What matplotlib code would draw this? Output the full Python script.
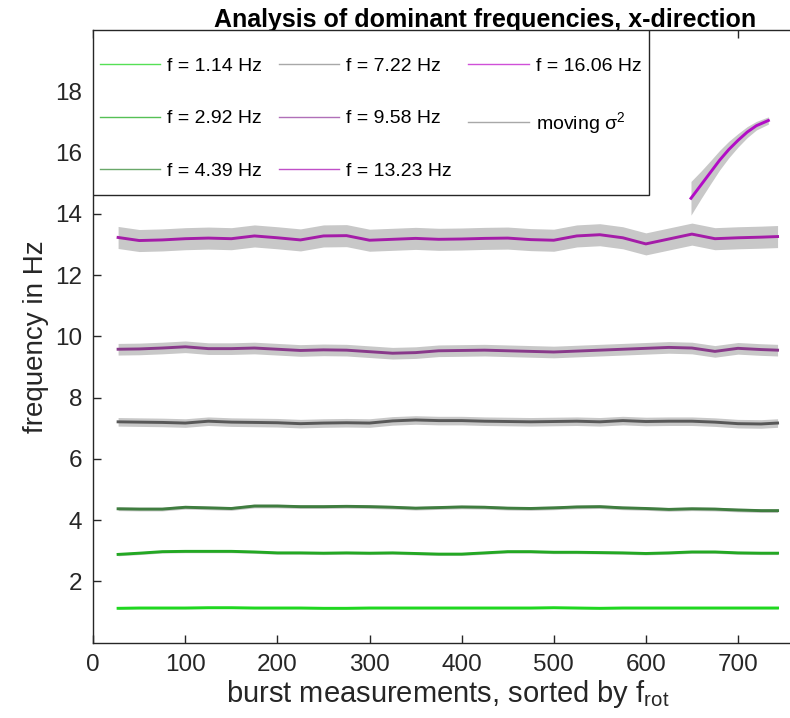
import numpy as np
import matplotlib
matplotlib.use("Agg")
import matplotlib.pyplot as plt
from matplotlib.lines import Line2D
from matplotlib.patches import Rectangle

plt.rcParams["font.family"] = ["Liberation Sans", "DejaVu Sans"]
plt.rcParams["mathtext.default"] = "regular"

# ── data ───────────────────────────────────────────────────────────────────
x = [27, 50, 75, 100, 125, 150, 175, 200, 225, 250, 275, 300, 325, 350, 375,
     400, 425, 450, 475, 500, 525, 550, 575, 600, 625, 650, 675, 700, 725, 743]

f_1_14 = [1.12, 1.13, 1.13, 1.13, 1.14, 1.14, 1.13, 1.13, 1.13, 1.12, 1.12, 1.13,
          1.13, 1.13, 1.13, 1.13, 1.13, 1.13, 1.13, 1.14, 1.13, 1.12, 1.13, 1.13,
          1.13, 1.13, 1.13, 1.13, 1.13, 1.13]
f_2_92 = [2.88, 2.92, 2.97, 2.98, 2.98, 2.98, 2.96, 2.93, 2.93, 2.92, 2.93, 2.92,
          2.93, 2.91, 2.89, 2.89, 2.93, 2.97, 2.97, 2.95, 2.95, 2.94, 2.93, 2.91,
          2.93, 2.96, 2.96, 2.93, 2.92, 2.92]
f_4_39 = [4.37, 4.36, 4.36, 4.42, 4.40, 4.38, 4.46, 4.46, 4.44, 4.44, 4.45, 4.44,
          4.42, 4.39, 4.41, 4.43, 4.42, 4.39, 4.38, 4.40, 4.43, 4.44, 4.40, 4.38,
          4.35, 4.37, 4.36, 4.33, 4.31, 4.31]
f_7_22 = [7.21, 7.20, 7.19, 7.17, 7.23, 7.20, 7.19, 7.18, 7.15, 7.17, 7.18, 7.17,
          7.24, 7.27, 7.25, 7.25, 7.23, 7.22, 7.21, 7.22, 7.23, 7.21, 7.25, 7.22,
          7.23, 7.23, 7.20, 7.15, 7.14, 7.17]
f_9_58 = [9.58, 9.59, 9.62, 9.66, 9.60, 9.60, 9.62, 9.58, 9.54, 9.56, 9.55, 9.50,
          9.45, 9.47, 9.53, 9.54, 9.55, 9.53, 9.51, 9.49, 9.52, 9.55, 9.58, 9.61,
          9.64, 9.62, 9.51, 9.61, 9.57, 9.55]
f_13_23 = [13.23, 13.13, 13.15, 13.19, 13.21, 13.19, 13.28, 13.22, 13.15, 13.28,
           13.29, 13.14, 13.17, 13.20, 13.17, 13.18, 13.20, 13.21, 13.16, 13.14,
           13.28, 13.32, 13.22, 13.02, 13.18, 13.34, 13.19, 13.22, 13.24, 13.26]

x_16 = [649, 660, 670, 680, 690, 700, 710, 720, 733]
f_16_06 = [14.51, 14.95, 15.35, 15.75, 16.10, 16.40, 16.67, 16.88, 17.05]
sig_16_06 = [0.55, 0.45, 0.38, 0.32, 0.27, 0.22, 0.18, 0.14, 0.12]

# half width of the moving sigma^2 band per series
sig_flat = {"1.14": 0.03, "2.92": 0.045, "4.39": 0.06, "7.22": 0.14,
            "9.58": 0.19, "13.23": 0.36}

labels = ["1.14", "2.92", "4.39", "7.22", "9.58", "13.23", "16.06"]
series = [f_1_14, f_2_92, f_4_39, f_7_22, f_9_58, f_13_23]

LINE_COLORS = {
    "1.14":  "#1fd81f",
    "2.92":  "#23a823",
    "4.39":  "#3f7d3f",
    "7.22":  "#585858",
    "9.58":  "#88398a",
    "13.23": "#a41ca8",
    "16.06": "#b20cc6",
}
LEGEND_COLORS = {
    "1.14":  "#55e055",
    "2.92":  "#55c055",
    "4.39":  "#6aa86a",
    "7.22":  "#a8a8a8",
    "9.58":  "#b070b8",
    "13.23": "#c050c8",
    "16.06": "#d050d8",
}
BAND = "#c8c8c8"
INK = "#262626"

# ── plot ───────────────────────────────────────────────────────────────────
# the original axes runs past the right edge of the picture (cropped export)
fig = plt.figure(figsize=(7.9, 7.18), dpi=100)
ax = fig.add_axes([0.118, 0.105, 0.991, 0.853])

xa = np.array(x)
for lab, vals in zip(labels[:-1], series):
    v = np.array(vals)
    s = sig_flat[lab]
    ax.fill_between(xa, v - s, v + s, color=BAND, lw=0, zorder=1)
    ax.plot(xa, v, color=LINE_COLORS[lab], lw=2.1, zorder=2)

v16 = np.array(f_16_06)
s16 = np.array(sig_16_06)
ax.fill_between(x_16, v16 - s16, v16 + s16, color=BAND, lw=0, zorder=1)
ax.plot(x_16, v16, color=LINE_COLORS["16.06"], lw=2.1, zorder=2)

ax.set_xlim(0, 850)
ax.set_ylim(0, 20)
ax.set_xticks(range(0, 701, 100))
ax.set_yticks(range(2, 19, 2))

for sp in ["top", "left", "bottom"]:
    ax.spines[sp].set_color(INK)
    ax.spines[sp].set_linewidth(1.0)
ax.spines["right"].set_visible(False)
ax.tick_params(direction="in", length=6, width=1, color=INK,
               top=True, right=False, labelsize=17.5, labelcolor=INK, pad=8)

ax.set_xlabel(r"burst measurements, sorted by f$_{rot}$", fontsize=21,
              color=INK, labelpad=2)
ax.xaxis.set_label_coords(0.453, -0.058)
ax.set_ylabel("frequency in Hz", fontsize=20, color=INK, labelpad=4)
ax.set_title("Analysis of dominant frequencies, x-direction", fontsize=18,
             fontweight="bold", pad=2)

# legend box: drawn separately, MATLAB pads it more vertically than sideways
ax.add_patch(Rectangle((0, 0.731), 0.710, 0.269, transform=ax.transAxes,
                       facecolor="white", edgecolor=INK, lw=1.0, zorder=4))
handles = [Line2D([], [], color=LEGEND_COLORS[l], lw=1.0) for l in labels]
handles.append(Line2D([], [], color="#a8a8a8", lw=1.0))
names = [f"f = {l} Hz" for l in labels] + [r"moving $\sigma^2$"]
leg = ax.legend(handles, names, loc="upper left", bbox_to_anchor=(0, 0.967),
                ncol=3, fontsize=14, frameon=False, borderaxespad=0,
                borderpad=0.35, handlelength=3.1, handletextpad=0.36,
                columnspacing=0.85, labelspacing=1.8)
leg.set_zorder(5)

fig.savefig("out.png", dpi=100, facecolor="white")
